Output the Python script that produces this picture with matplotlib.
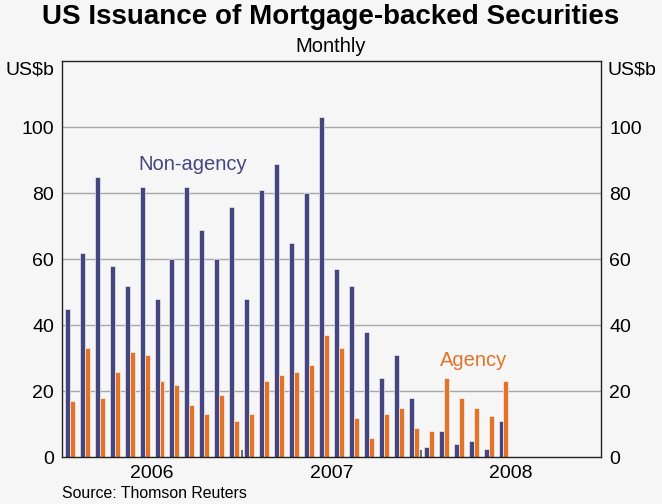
import matplotlib.pyplot as plt
import numpy as np

plt.rcParams['font.family'] = ['Liberation Sans', 'DejaVu Sans']

# Monthly data, Jan 2006 - Jun 2008 (US$b)
months = [f"{y}-{m:02d}" for y in (2006, 2007, 2008) for m in range(1, 13)][:30]
non_agency = [45, 62, 85, 58, 52, 82, 48, 60, 82, 69, 60, 76,
              48, 81, 89, 65, 80, 103, 57, 52, 38, 24, 31, 18,
              3, 8, 4, 5, 2.5, 11]
agency = [17, 33, 18, 26, 32, 31, 23, 22, 16, 13, 19, 11,
          13, 23, 25, 26, 28, 37, 33, 12, 6, 13, 15, 9,
          8, 24, 18, 15, 12.5, 23]
years = ["2006", "2007", "2008"]
yticks = [0, 20, 40, 60, 80, 100]

navy = '#454580'
orange = '#e0742a'
bg = '#f6f6f6'

fig = plt.figure(figsize=(6.62, 5.04), dpi=100, facecolor=bg)
ax = fig.add_axes([62.3 / 662, 1 - 457.3 / 504, (600.7 - 62.3) / 662, (457.3 - 61.3) / 504])
ax.set_facecolor(bg)

x = np.array([(int(m[:4]) - 2006) * 12 + int(m[5:]) - 1 for m in months])
w = 1 / 3
ax.bar(x + 1 / 6, non_agency, width=w, align='edge', color=navy,
       edgecolor='white', linewidth=0.4, zorder=3)
ax.bar(x + 0.5, agency, width=w, align='edge', color=orange,
       edgecolor='white', linewidth=0.4, zorder=3)

ax.set_xlim(0, 36)
ax.set_ylim(0, 120)

# gridlines
for v in yticks[1:]:
    ax.axhline(v, color='#a8a8a8', lw=1, zorder=1)

ax.set_yticks(yticks)
ax.set_yticklabels([str(v) for v in yticks])
ax.tick_params(axis='y', length=0, labelsize=14, pad=6,
               labelleft=True, labelright=True)

# x: year labels centred, ticks at year boundaries
ax.set_xticks([12, 24])
ax.set_xticklabels([])
ax.tick_params(axis='x', direction='in', length=5, width=1.2, color='#555555')
for i, yr in enumerate(years):
    ax.text(i * 12 + 6, -2.2, yr, ha='center', va='top', fontsize=14)

for s in ax.spines.values():
    s.set_color('#222222')
    s.set_linewidth(1)
    s.set_zorder(5)

# unit labels
ax.text(-0.55, 117.3, 'US$b', ha='right', va='center', fontsize=14)
ax.text(36.45, 117.3, 'US$b', ha='left', va='center', fontsize=14)

# series labels
ax.text(8.74, 88.6, 'Non-agency', color=navy, ha='center', va='center', fontsize=14.5)
ax.text(27.47, 29.2, 'Agency', color=orange, ha='center', va='center', fontsize=14.5)

fig.text(0.5, 1 - 17 / 504, 'US Issuance of Mortgage-backed Securities',
         ha='center', va='center', fontsize=20, fontweight='bold')
fig.text(0.5, 1 - 46 / 504, 'Monthly', ha='center', va='center', fontsize=14.5)
fig.text(62 / 662, 1 - 493 / 504, 'Source: Thomson Reuters', ha='left',
         va='center', fontsize=11.4)

fig.savefig('out.png', dpi=100, facecolor=bg)
